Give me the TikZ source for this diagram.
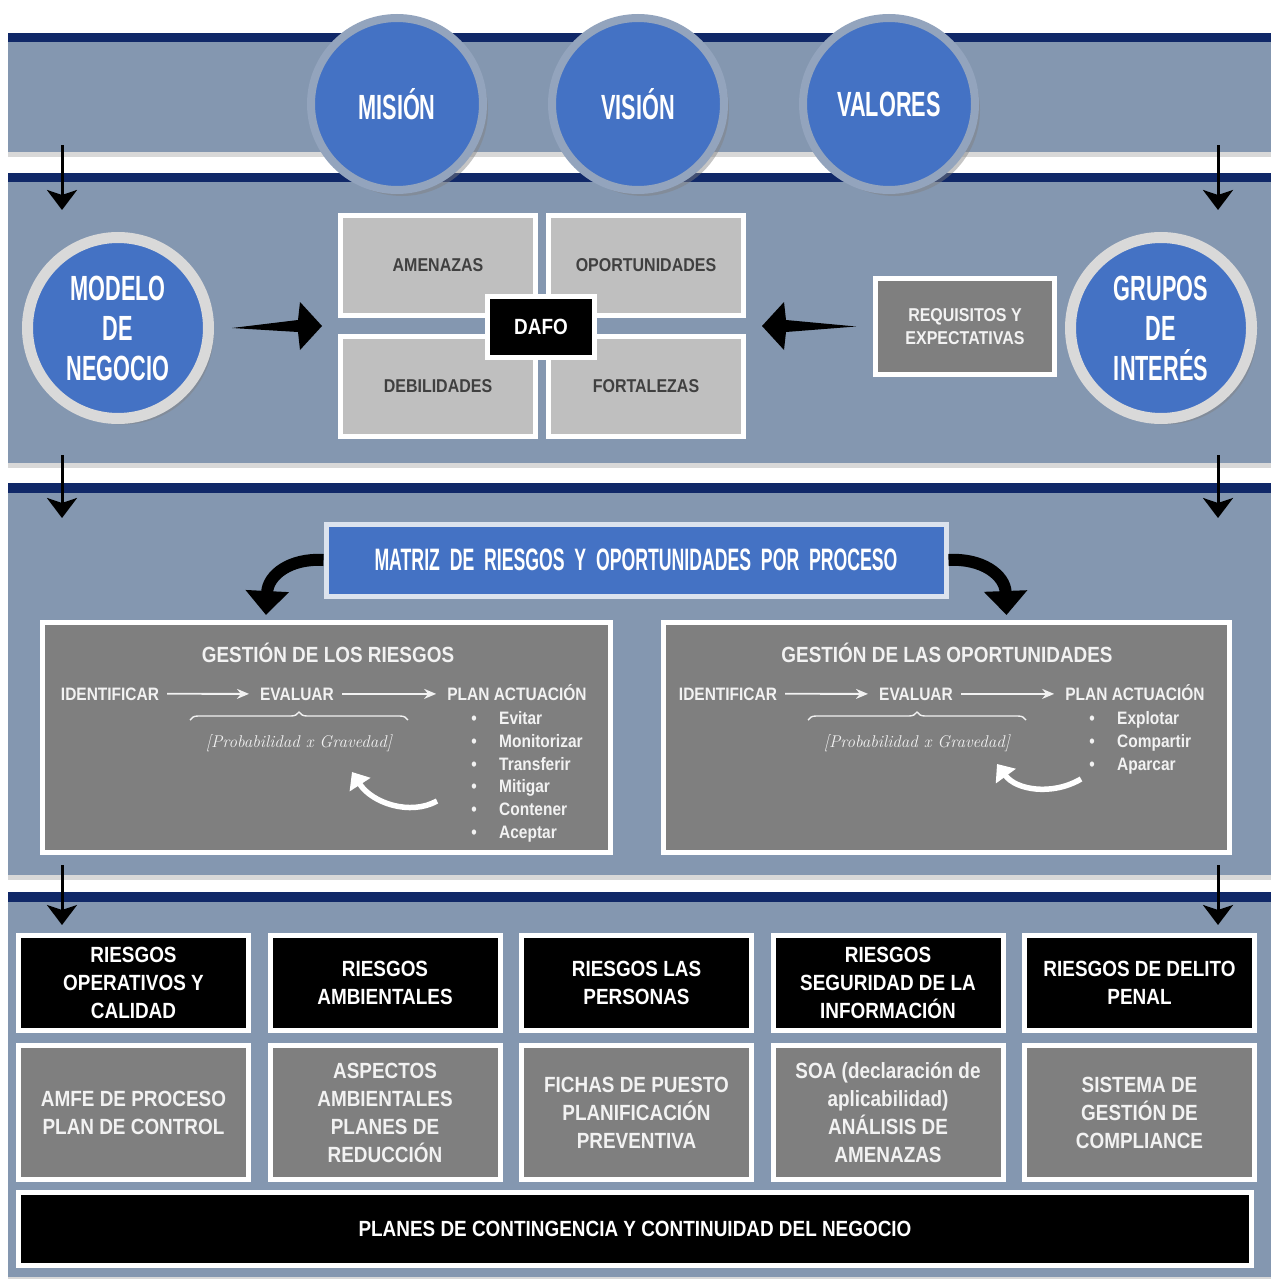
\documentclass[tikz,border=0pt]{standalone}
\usepackage{fontspec}
\newfontfamily\nf[FakeStretch=0.86]{Liberation Sans}
\newfontfamily\ag[FakeStretch=0.62]{Liberation Sans}
\newfontfamily\agm[FakeStretch=0.57,WordSpace=2]{Liberation Sans}
\usetikzlibrary{shadows,arrows.meta,decorations.pathreplacing,calc}
\definecolor{bandc}{HTML}{8497B0}
\definecolor{navyc}{HTML}{102868}
\definecolor{circb}{HTML}{4472C4}
\definecolor{ringt}{HTML}{93A4BD}
\definecolor{ringl}{HTML}{D9D9D9}
\definecolor{dafoc}{HTML}{BFBFBF}
\definecolor{dafot}{HTML}{404040}
\definecolor{grayb}{HTML}{7F7F7F}
\definecolor{mborder}{HTML}{DCE3EE}
\definecolor{txtl}{HTML}{F2F2F2}
\newcommand\wedgearrow[3]{\fill[black] (#1) -- ([shift={({-24*#3},-6)}]#2) -- ([shift={({-22*#3},-24)}]#2) -- (#2) -- ([shift={({-22*#3},24)}]#2) -- ([shift={({-24*#3},6)}]#2) -- cycle;}
\begin{document}
\begin{tikzpicture}[x=1pt,y=-1pt,
  bandbg/.style={fill=bandc, drop shadow={shadow xshift=0pt, shadow yshift=-5pt, opacity=0.3}},
  navyln/.style={fill=navyc},
  topcirc/.style={circle, fill=circb, draw=ringt, line width=8pt, minimum size=172pt, inner sep=0pt, text=white, align=center, font=\ag\bfseries\fontsize{35}{40}\selectfont, drop shadow={shadow xshift=5pt, shadow yshift=-6pt, opacity=0.45}},
  sidecirc/.style={topcirc, draw=ringl, line width=11pt, minimum size=181pt},
  wbox/.style={draw=white, line width=5pt, inner sep=0pt, align=center},
  dafobox/.style={wbox, fill=dafoc, text=dafot, minimum width=195pt, minimum height=100pt, font=\nf\bfseries\fontsize{18.6}{22}\selectfont},
  graybox/.style={wbox, fill=grayb},
  ttl/.style={anchor=base, text=txtl, font=\nf\bfseries\fontsize{22}{26}\selectfont},
  rowtxt/.style={anchor=base, text=txtl, inner sep=3pt, font=\nf\bfseries\fontsize{18}{22}\selectfont},
  itemtxt/.style={anchor=base west, inner sep=0pt, text=txtl, font=\nf\bfseries\fontsize{18}{22}\selectfont},
  bullettxt/.style={anchor=base, inner sep=0pt, text=txtl, font=\nf\bfseries\fontsize{18}{22}\selectfont},
  probtxt/.style={text=txtl, font=\itshape\fontsize{17}{20}\selectfont},
  warrow/.style={draw=txtl, line width=1.8pt, -{Stealth[length=12pt,width=10pt]}, shorten <=5pt, shorten >=8pt},
  backarrow/.style={draw=white, line width=5.5pt, -{Triangle[length=15pt,width=24pt]}},
  bracew/.style={draw=txtl, line width=1.4pt, decorate, decoration={brace, amplitude=8pt}},
  varrow/.style={draw=black, line width=3pt, -{Stealth[length=20pt,width=30pt,inset=5pt]}},
  curvarrow/.style={draw=black, line width=12pt, -{Triangle[length=24pt,width=42pt]}},
  cattop/.style={wbox, fill=black, text=white, minimum width=230pt, minimum height=95pt, font=\nf\bfseries\fontsize{22}{28}\selectfont},
  catbot/.style={wbox, fill=grayb, text=txtl, minimum width=230pt, minimum height=134pt, font=\nf\bfseries\fontsize{22}{28}\selectfont},
]
\useasboundingbox (0,0) rectangle (1271,1279);
\fill[white] (0,0) rectangle (1271,1279);
% bands
\fill[bandbg] (8,42) rectangle (1271,152);
\fill[bandbg] (8,182) rectangle (1271,463);
\fill[bandbg] (8,493) rectangle (1271,875);
\fill[bandbg] (8,902) rectangle (1271,1277);
\fill[navyln] (8,33) rectangle (1271,42);
\fill[navyln] (8,173) rectangle (1271,182);
\fill[navyln] (8,483) rectangle (1271,493);
\fill[navyln] (8,892) rectangle (1271,902);
% vertical arrows
\coordinate (a1t) at (62,145); \coordinate (a1b) at (62,210);
\coordinate (a2t) at (1218,145); \coordinate (a2b) at (1218,210);
\coordinate (a3t) at (62,455); \coordinate (a3b) at (62,518);
\coordinate (a4t) at (1218,455); \coordinate (a4b) at (1218,518);
\coordinate (a5t) at (62,865); \coordinate (a5b) at (62,925);
\coordinate (a6t) at (1218,865); \coordinate (a6b) at (1218,925);
\foreach \k in {1,...,6} {\draw[varrow] (a\k t) -- (a\k b);}
% top circles
\node[topcirc] (mi) at (397,104) {MISIÓN};
\node[topcirc] (vi) at (638,104) {VISIÓN};
\node[topcirc] (va) at (889,104) {VALORES};
% side circles
\node[sidecirc] (mo) at (118,328) {MODELO\\DE\\NEGOCIO};
\node[sidecirc] (gi) at (1161,328) {GRUPOS\\DE\\INTERÉS};
% DAFO
\node[dafobox] (am) at (438,265.5) {AMENAZAS};
\node[dafobox] (op) at (646,265.5) {OPORTUNIDADES};
\node[dafobox] (de) at (438,386.5) {DEBILIDADES};
\node[dafobox] (fo) at (646,386.5) {FORTALEZAS};
\node[wbox, fill=black, text=white, minimum width=107pt, minimum height=61pt, font=\nf\bfseries\fontsize{22}{26}\selectfont] (df) at (541,327) {DAFO};
\node[wbox, fill=grayb, text=txtl, minimum width=179pt, minimum height=96pt, font=\nf\bfseries\fontsize{18.6}{23}\selectfont] (rq) at (965,326.5) {REQUISITOS Y\\EXPECTATIVAS};
% wedge arrows
\coordinate (dw) at ($(am.west)!0.5!(de.west)$);
\coordinate (de2) at ($(op.east)!0.5!(fo.east)$);
\coordinate (w1s) at ([xshift=18pt]mo.east);
\coordinate (w1e) at ([xshift=-16pt]dw);
\coordinate (w2s) at ([xshift=-17pt]rq.west);
\coordinate (w2e) at ([xshift=16pt]de2);
\wedgearrow{w1s}{w1e}{1}
\wedgearrow{w2s}{w2e}{-1}
% matrix
\node[wbox, draw=mborder, fill=circb, text=white, minimum width=620pt, minimum height=72pt, font=\agm\bfseries\fontsize{31}{36}\selectfont, drop shadow={shadow xshift=3pt, shadow yshift=-3pt, opacity=0.3}] (mx) at (636,560) {MATRIZ DE RIESGOS Y OPORTUNIDADES POR PROCESO};
% gestion boxes
\node[graybox, minimum width=568pt, minimum height=230pt] (gl) at (326,737.5) {};
\node[graybox, minimum width=566pt, minimum height=230pt] (gr) at (946.5,737.5) {};
\coordinate (lt) at ([shift={(-60,-5)}]gl.north);
\coordinate (rt) at ([shift={(60,-5)}]gr.north);
\draw[curvarrow] (mx.west) .. controls (290,558) and (268,575) .. (lt);
\draw[curvarrow] (mx.east) .. controls (982,558) and (1005,575) .. (rt);
% left content
\node[ttl] (tl) at (328,662) {GESTIÓN DE LOS RIESGOS};
\node[rowtxt] (idl) at (110,700) {IDENTIFICAR};
\node[rowtxt] (evl) at (297,700) {EVALUAR};
\node[rowtxt] (pal) at (517,700) {PLAN ACTUACIÓN};
\draw[warrow] (idl.east) -- (evl.west);
\draw[warrow] (evl.east) -- (pal.west |- evl.east);
\coordinate (bl1) at (190,720); \coordinate (bl2) at (408,720);
\draw[bracew] (bl1) -- (bl2);
\node[probtxt] (prl) at (299,743) {[Probabilidad x Gravedad]};
\foreach \t [count=\i] in {Evitar,Monitorizar,Transferir,Mitigar,Contener,Aceptar} {
  \pgfmathsetmacro\yy{701.6+22.8*\i}
  \node[itemtxt] (li\i) at (499,\yy) {\t};
  \node[bullettxt] (lb\i) at (474,\yy) {\textbullet};
}
\coordinate (bk1) at (437,801); \coordinate (bk2) at (352,772);
\draw[backarrow] (bk1) .. controls (410,816) and (372,803) .. (bk2);
% right content
\node[ttl] (tr) at (947,662) {GESTIÓN DE LAS OPORTUNIDADES};
\node[rowtxt] (idr) at (728,700) {IDENTIFICAR};
\node[rowtxt] (evr) at (916,700) {EVALUAR};
\node[rowtxt] (par) at (1135,700) {PLAN ACTUACIÓN};
\draw[warrow] (idr.east) -- (evr.west);
\draw[warrow] (evr.east) -- (par.west |- evr.east);
\coordinate (br1) at (808,720); \coordinate (br2) at (1026,720);
\draw[bracew] (br1) -- (br2);
\node[probtxt] (prr) at (917,743) {[Probabilidad x Gravedad]};
\foreach \t [count=\i] in {Explotar,Compartir,Aparcar} {
  \pgfmathsetmacro\yy{701.6+22.8*\i}
  \node[itemtxt] (ri\i) at (1117,\yy) {\t};
  \node[bullettxt] (rb\i) at (1092,\yy) {\textbullet};
}
\coordinate (bk3) at (1081,779); \coordinate (bk4) at (997,764);
\draw[backarrow] (bk3) .. controls (1052,796) and (1016,790) .. (bk4);
% bottom categories
\node[cattop] (c1) at (133.5,983) {RIESGOS\\OPERATIVOS Y\\CALIDAD};
\node[cattop] (c2) at (385,983) {RIESGOS\\AMBIENTALES};
\node[cattop] (c3) at (636.5,983) {RIESGOS LAS\\PERSONAS};
\node[cattop] (c4) at (888,983) {RIESGOS\\SEGURIDAD DE LA\\INFORMACIÓN};
\node[cattop] (c5) at (1139.5,983) {RIESGOS DE DELITO\\PENAL};
\node[catbot] (d1) at (133.5,1112.5) {AMFE DE PROCESO\\PLAN DE CONTROL};
\node[catbot] (d2) at (385,1112.5) {ASPECTOS\\AMBIENTALES\\PLANES DE\\REDUCCIÓN};
\node[catbot] (d3) at (636.5,1112.5) {FICHAS DE PUESTO\\PLANIFICACIÓN\\PREVENTIVA};
\node[catbot] (d4) at (888,1112.5) {SOA (declaración de\\aplicabilidad)\\ANÁLISIS DE\\AMENAZAS};
\node[catbot] (d5) at (1139.5,1112.5) {SISTEMA DE\\GESTIÓN DE\\COMPLIANCE};
\node[wbox, fill=black, text=white, minimum width=1233pt, minimum height=73pt, font=\nf\bfseries\fontsize{22}{28}\selectfont] (pc) at (635,1229) {PLANES DE CONTINGENCIA Y CONTINUIDAD DEL NEGOCIO};
\end{tikzpicture}
\end{document}
